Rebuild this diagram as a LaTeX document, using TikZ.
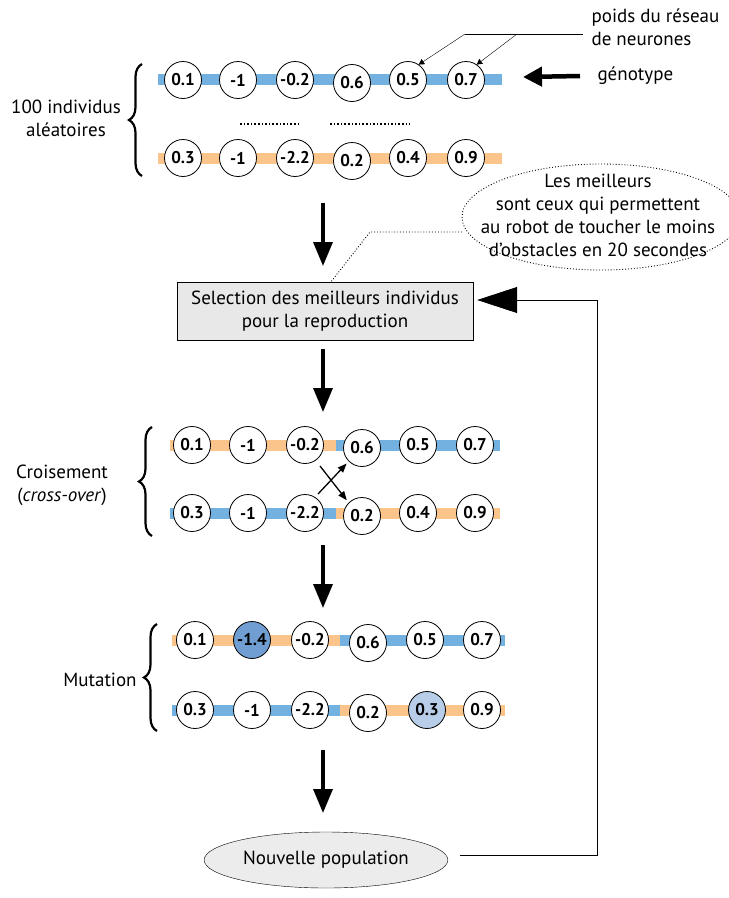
\documentclass[tikz,border=0pt]{standalone}
\usepackage{fontspec}
\setmainfont{PT Sans}
\usetikzlibrary{arrows, arrows.meta, calc, shapes.geometric, decorations.pathreplacing}
\definecolor{genebleu}{RGB}{115,178,224}
\definecolor{geneorange}{RGB}{250,196,138}
\definecolor{mutfonce}{RGB}{112,157,210}
\definecolor{mutclair}{RGB}{184,205,232}

\begin{document}
\begin{tikzpicture}[x=1pt, y=-1pt,
	gene/.style={circle, draw, line width=0.8pt, fill=white, minimum size=37pt, inner sep=0pt, font=\bfseries\fontsize{17}{17}\selectfont},
	etape/.style={-{Triangle[length=24pt, width=19pt]}, line width=3.5pt},
	accolade/.style={decorate, decoration={brace, amplitude=13pt}, line width=2.2pt},
	legende/.style={font=\fontsize{19}{23}\selectfont, align=center}]
	\useasboundingbox (0,0) rectangle (729,898);
	% population initiale
	\fill [genebleu] (158,74) rectangle (502,85);
	\fill [geneorange] (158,153) rectangle (502,164);
	\foreach \x/\v/\d [count=\i] in {183/0.1/0, 238/-1/0, 295/-0.2/0, 352/0.6/3, 408/0.5/0, 466/0.7/0}
		\node [gene] (h\i) at (\x,80+\d) {\v};
	\foreach \x/\v/\d [count=\i] in {183/0.3/0, 238/-1/0, 295/-2.2/0, 352/0.2/3, 408/0.4/0, 466/0.9/0}
		\node [gene] (b\i) at (\x,158+\d) {\v};
	\draw [dotted, line width=1.6pt] (240,124) -- (300,124);
	\draw [dotted, line width=1.6pt] (330,124) -- (410,124);
	\draw [accolade] (142,176) -- (142,64);
	\node [legende] (initiale) at (66,118) {100 individus\\aléatoires};
	\node [legende, right] (genotype) at (594,76) {génotype};
	\draw [-{Triangle[length=19pt, width=19pt]}, line width=4.5pt] ([xshift=-14pt]genotype.west) -- (523,77);
	\node [legende, right, align=left] (poids) at (588,27) {poids du réseau\\de neurones};
	\coordinate (poidsd) at (583,34);
	\coordinate (poidsm) at (517,34);
	\coordinate (poidsg) at (465,34);
	\draw (poidsd) -- (poidsg);
	\draw [-triangle 60] (poidsg) -- (h5.55);
	\draw [-triangle 60] (poidsm) -- (h6.55);
	% selection
	\node [draw, fill=gray!18, minimum width=296pt, minimum height=58pt, legende] (select) at (325,311)
		{Selection des meilleurs individus\\pour la reproduction};
	\node [legende] (critere) at (598,215)
		{Les meilleurs\\sont ceux qui permettent\\au robot de toucher le moins\\d'obstacles en 20 secondes};
	\draw [dotted, line width=0.9pt] (601,217) ellipse [x radius=139, y radius=53];
	\coordinate (bulle) at (462,232);
	\coordinate (coude) at (370,232);
	\draw [dotted, line width=0.9pt] (bulle) -- (coude) -- ([xshift=6pt]select.north);
	\coordinate (s1) at (323,203);
	\draw [etape] (s1) -- (323,266);
	% croisement
	\fill [geneorange] (170,440) rectangle (336,451);
	\fill [genebleu] (336,440) rectangle (500,451);
	\fill [genebleu] (170,508) rectangle (336,519);
	\fill [geneorange] (336,508) rectangle (500,519);
	\foreach \x/\v/\d [count=\i] in {192/0.1/0, 248/-1/0, 305/-0.2/0, 362/0.6/3, 418/0.5/0, 475/0.7/0}
		\node [gene] (c\i) at (\x,445+\d) {\v};
	\foreach \x/\v/\d [count=\i] in {192/0.3/0, 248/-1/0, 305/-2.2/0, 362/0.2/3, 418/0.4/0, 475/0.9/0}
		\node [gene] (d\i) at (\x,513+\d) {\v};
	\coordinate (x1) at (318,494);
	\coordinate (x2) at (320,466);
	\draw [-{Triangle[length=9pt, width=7pt]}, line width=1.3pt, shorten >=3pt] (x1) -- (c4.south west);
	\draw [-{Triangle[length=9pt, width=7pt]}, line width=1.3pt, shorten >=3pt] (x2) -- (d4.north west);
	\draw [accolade] (152,536) -- (152,427);
	\node [legende] (croisement) at (62,485) {Croisement\\(\textit{cross-over})};
	\coordinate (s2) at (323,349);
	\draw [etape] (s2) -- (323,412);
	% mutation
	\fill [geneorange] (172,635) rectangle (340,646);
	\fill [genebleu] (340,635) rectangle (505,646);
	\fill [genebleu] (172,705) rectangle (340,716);
	\fill [geneorange] (340,705) rectangle (505,716);
	\foreach \x/\v/\d/\c [count=\i] in {195/0.1/0/white, 252/-1.4/0/mutfonce, 310/-0.2/0/white, 368/0.6/3/white, 425/0.5/0/white, 482/0.7/0/white}
		\node [gene, fill=\c] (m\i) at (\x,640+\d) {\v};
	\foreach \x/\v/\d/\c [count=\i] in {195/0.3/0/white, 252/-1/0/white, 310/-2.2/0/white, 368/0.2/3/white, 427/0.3/0/mutclair, 482/0.9/0/white}
		\node [gene, fill=\c] (n\i) at (\x,710+\d) {\v};
	\draw [accolade] (157,731) -- (157,624);
	\node [legende] (mutation) at (100,680) {Mutation};
	\coordinate (s3) at (323,545);
	\draw [etape] (s3) -- (323,608);
	% nouvelle population
	\node [draw, ellipse, fill=gray!15, minimum width=176pt, minimum height=56pt, legende] (nouvelle) at (326,860) {Nouvelle population};
	\coordinate (s4) at (323,750);
	\draw [etape] (s4) -- (s4 |- 0,813);
	\coordinate (retour) at (460,855);
	\draw [-{Triangle[length=40pt, width=26pt]}, line width=0.8pt] (retour) -- (597,855) |- ([yshift=11pt, xshift=4pt]select.east);
\end{tikzpicture}
\end{document}
